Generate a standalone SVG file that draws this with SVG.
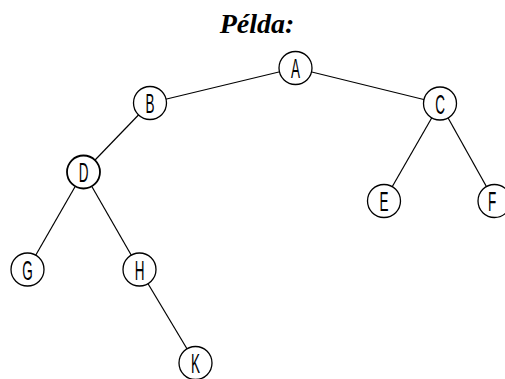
<svg xmlns="http://www.w3.org/2000/svg" width="505" height="379" viewBox="0 0 505 379">
  <style>
    .edge { stroke: #000; stroke-width: 1.2; fill: none; }
    .node circle { fill: #fff; stroke: #000; stroke-width: 1.3; }
    .node text { font-family: "Liberation Sans", "DejaVu Sans", sans-serif; font-size: 27px; text-anchor: middle; fill: #000; }
    .title { font-family: "Liberation Serif", "Times New Roman", serif; font-size: 28px; font-weight: bold; font-style: italic; text-anchor: middle; }
  </style>
  <rect width="505" height="379" fill="#fff"/>
  <text class="title" x="257" y="33">Példa:</text>
  <g id="connectors">
    <line class="edge" x1="295.5" y1="68" x2="150" y2="103"/>
    <line class="edge" x1="295.5" y1="68" x2="440" y2="103.5"/>
    <line class="edge" x1="150" y1="103" x2="83.5" y2="172"/>
    <line class="edge" x1="83.5" y1="172" x2="27.5" y2="269.5"/>
    <line class="edge" x1="83.5" y1="172" x2="139.5" y2="269.5"/>
    <line class="edge" x1="139.5" y1="269.5" x2="195.5" y2="363"/>
    <line class="edge" x1="440" y1="103.5" x2="384" y2="201"/>
    <line class="edge" x1="440" y1="103.5" x2="494.5" y2="201"/>
  </g>
  <g id="node-A" class="node"><circle cx="295.5" cy="68" r="16.5"/><text transform="translate(295.5,78) scale(0.5,1)">A</text></g>
  <g id="node-B" class="node"><circle cx="150" cy="103" r="16.5"/><text transform="translate(150,113) scale(0.5,1)">B</text></g>
  <g id="node-C" class="node"><circle cx="440" cy="103.5" r="16.5"/><text transform="translate(440,113.5) scale(0.5,1)">C</text></g>
  <g id="node-D" class="node"><circle cx="83.5" cy="172" r="16.5" style="stroke-width:1.8"/><text transform="translate(83.5,182) scale(0.5,1)">D</text></g>
  <g id="node-E" class="node"><circle cx="384" cy="201" r="16.5"/><text transform="translate(384,211) scale(0.5,1)">E</text></g>
  <g id="node-F" class="node"><circle cx="494.5" cy="201" r="16.5"/><text transform="translate(492,211) scale(0.5,1)">F</text></g>
  <g id="node-G" class="node"><circle cx="27.5" cy="269.5" r="16.5"/><text transform="translate(27.5,279.5) scale(0.5,1)">G</text></g>
  <g id="node-H" class="node"><circle cx="139.5" cy="269.5" r="16.5"/><text transform="translate(139.5,279.5) scale(0.5,1)">H</text></g>
  <g id="node-K" class="node"><circle cx="195.5" cy="363" r="16.5"/><text transform="translate(195.5,373) scale(0.5,1)">K</text></g>
</svg>
